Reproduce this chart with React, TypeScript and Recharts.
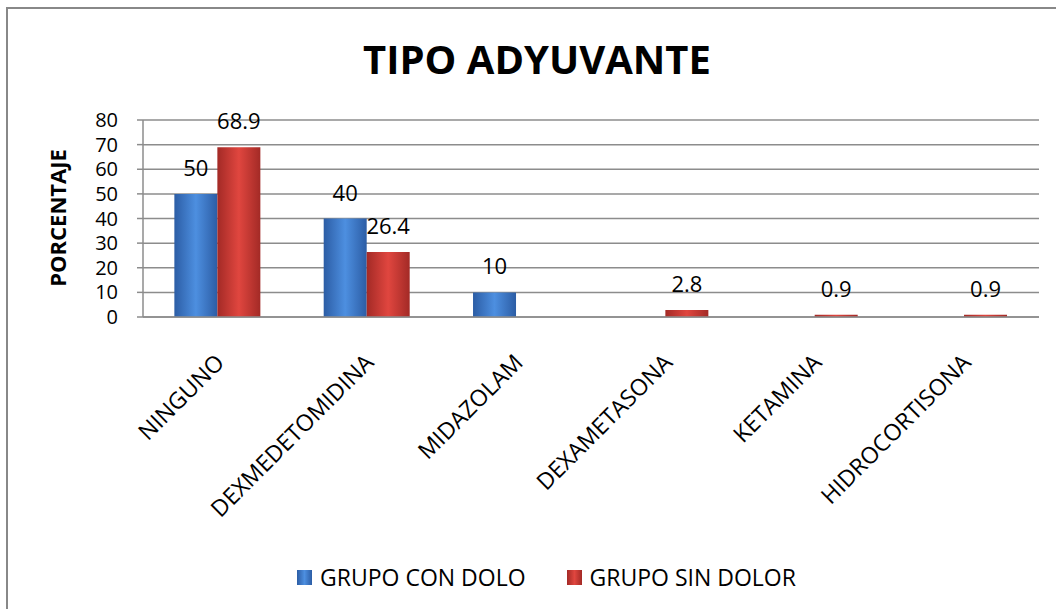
import React from 'react';
import { BarChart, Bar, XAxis, YAxis, CartesianGrid, Legend, LabelList, Label } from 'recharts';

// values
const categories = ['NINGUNO', 'DEXMEDETOMIDINA', 'MIDAZOLAM', 'DEXAMETASONA', 'KETAMINA', 'HIDROCORTISONA'];
const conDolor = [50, 40, 10, 0, 0, 0];
const sinDolor = [68.9, 26.4, 0, 2.8, 0.9, 0.9];
const yTicks = [0, 10, 20, 30, 40, 50, 60, 70, 80];

const data = categories.map((name, i) => ({ name, con: conDolor[i], sin: sinDolor[i] }));

const FONT = '"Open Sans", Calibri, sans-serif';
const GRID = '#8c8c8c';
const BLUE_BG = 'linear-gradient(90deg,#2c5da5,#4d8fe0,#2c5da5)';
const RED_BG = 'linear-gradient(90deg,#a32a26,#e0463f,#a32a26)';

const XTick = (props: any) => {
    const { x, y, payload } = props;
    return (
        <g transform={`translate(${x + 8},${y + 47})`}>
            <text x={0} y={0} textAnchor="end" transform="rotate(-45)" fontSize={23} fill="#000" fontFamily={FONT}>
                {payload.value}
            </text>
        </g>
    );
};

const LegendBox = (props: any) => {
    const items = props.payload || [];
    return (
        <div style={{ height: 34, display: 'flex', justifyContent: 'center', alignItems: 'center', fontFamily: FONT, fontSize: 23, color: '#000', paddingLeft: 54 }}>
            {items.map((it: any, i: number) => (
                <div key={i} style={{ display: 'flex', alignItems: 'center', marginLeft: i ? 41 : 0 }}>
                    <span style={{ width: 15, height: 15, marginRight: 8, background: i === 0 ? BLUE_BG : RED_BG }} />
                    {it.value}
                </div>
            ))}
        </div>
    );
};

export default function App() {
    return (
        <div style={{ position: 'fixed', left: 0, top: 0, width: 1056, height: 609, overflow: 'hidden', background: '#fff' }}>
            <div style={{ position: 'absolute', left: 6, top: 7, width: 1200, height: 800, border: '2px solid #888', boxSizing: 'border-box' }} />
            <div style={{ position: 'absolute', left: 0, top: 31, width: 1074, textAlign: 'center', fontFamily: FONT, fontWeight: 700, fontSize: 40, color: '#000' }}>
                TIPO ADYUVANTE
            </div>
            <div style={{ position: 'absolute', left: 0, top: 0 }}>
                <BarChart width={1056} height={609} data={data} margin={{ top: 120, right: 17, left: 0, bottom: 15 }} barCategoryGap="21%" barGap={0}>
                    <defs>
                        <linearGradient id="gBlue" x1="0" y1="0" x2="1" y2="0">
                            <stop offset="0%" stopColor="#2c5da5" />
                            <stop offset="50%" stopColor="#4d8fe0" />
                            <stop offset="100%" stopColor="#2c5da5" />
                        </linearGradient>
                        <linearGradient id="gRed" x1="0" y1="0" x2="1" y2="0">
                            <stop offset="0%" stopColor="#a32a26" />
                            <stop offset="50%" stopColor="#e0463f" />
                            <stop offset="100%" stopColor="#a32a26" />
                        </linearGradient>
                    </defs>
                    <CartesianGrid vertical={false} stroke={GRID} strokeWidth={1.5} />
                    <XAxis dataKey="name" height={243} tickSize={0} tickMargin={0} interval={0} tick={<XTick />} axisLine={{ stroke: GRID, strokeWidth: 1.5 }} tickLine={false} />
                    <YAxis
                        width={143}
                        domain={[0, 80]}
                        ticks={yTicks}
                        interval={0}
                        tickSize={6}
                        tickMargin={19}
                        tick={{ fontSize: 20, fill: '#000', fontFamily: FONT }}
                        axisLine={{ stroke: GRID, strokeWidth: 1.5 }}
                        tickLine={{ stroke: GRID, strokeWidth: 1.5 }}
                    >
                        <Label
                            content={() => (
                                <text x={0} y={0} transform="translate(66,218) rotate(-90)" textAnchor="middle" fontSize={22} fontWeight={700} fontFamily={FONT} fill="#000">
                                    PORCENTAJE
                                </text>
                            )}
                        />
                    </YAxis>
                    <Legend verticalAlign="bottom" content={<LegendBox />} />
                    <Bar dataKey="con" name="GRUPO CON DOLO" fill="url(#gBlue)" isAnimationActive={false}>
                        <LabelList dataKey="con" position="top" offset={18} fontSize={22} fill="#000" fontFamily={FONT} formatter={(v: any) => (v === 0 ? '' : v)} />
                    </Bar>
                    <Bar dataKey="sin" name="GRUPO SIN DOLOR" fill="url(#gRed)" isAnimationActive={false}>
                        <LabelList dataKey="sin" position="top" offset={18} fontSize={22} fill="#000" fontFamily={FONT} formatter={(v: any) => (v === 0 ? '' : v)} />
                    </Bar>
                </BarChart>
            </div>
        </div>
    );
}
